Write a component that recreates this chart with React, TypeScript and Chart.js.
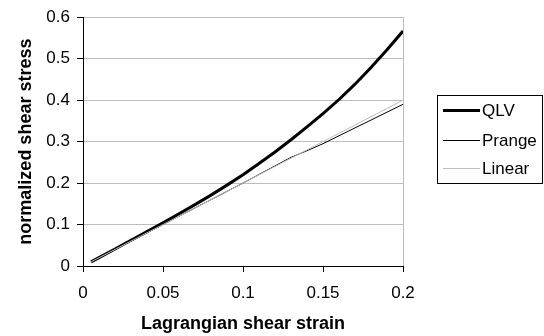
import React, { useEffect, useRef } from "react";
import { Chart, registerables } from "chart.js";

Chart.register(...registerables);

// ---- data ----
const seriesNames = ["QLV", "Prange", "Linear"];

const strainQLV = [0.005, 0.01, 0.02, 0.03, 0.04, 0.05, 0.06, 0.07, 0.08, 0.09, 0.1, 0.11, 0.12, 0.13, 0.14, 0.15, 0.16, 0.17, 0.18, 0.19, 0.2];
const stressQLV = [0.01, 0.02, 0.041, 0.062, 0.083, 0.104, 0.126, 0.148, 0.171, 0.195, 0.22, 0.247, 0.275, 0.3045, 0.3355, 0.3675, 0.4015, 0.4385, 0.4785, 0.5215, 0.5665];

const strainPrange = [0.005, 0.05, 0.1, 0.13, 0.14, 0.15, 0.16, 0.17, 0.18, 0.19, 0.2];
const stressPrange = [0.01, 0.1, 0.2, 0.262, 0.278, 0.295, 0.314, 0.333, 0.352, 0.371, 0.39];

const strainLinear = [0.005, 0.2];
const stressLinear = [0.01, 0.4];

const xTicks = [0, 0.05, 0.1, 0.15, 0.2];
const yTicks = [0, 0.1, 0.2, 0.3, 0.4, 0.5, 0.6];

const xTitle = "Lagrangian shear strain";
const yTitle = "normalized shear stress";

const colors = ["#000000", "#000000", "#bdbdbd"];
const widths = [3, 1, 1];

const FONT = "'Liberation Sans', Arial, sans-serif";

const pts = (xs: number[], ys: number[]) => xs.map((x, i) => ({ x, y: ys[i] }));
const fmt = (v: number) => String(Number(Number(v).toFixed(3)));

const legendPlugin = {
  id: "boxLegend",
  afterDraw(chart: any) {
    const ctx = chart.ctx;
    ctx.save();
    ctx.strokeStyle = "#000";
    ctx.lineWidth = 1;
    ctx.strokeRect(437.5, 95.5, 105, 88);
    const ys = [110, 140, 168];
    ctx.font = `17px ${FONT}`;
    ctx.textBaseline = "middle";
    ctx.textAlign = "left";
    seriesNames.forEach((name, i) => {
      ctx.beginPath();
      ctx.strokeStyle = colors[i];
      ctx.lineWidth = widths[i];
      ctx.moveTo(443, ys[i] + 0.5);
      ctx.lineTo(480, ys[i] + 0.5);
      ctx.stroke();
      ctx.fillStyle = "#000";
      ctx.fillText(name, 482, ys[i] + 1);
    });
    ctx.restore();
  },
};

export default function App() {
  const ref = useRef<HTMLCanvasElement | null>(null);

  useEffect(() => {
    if (!ref.current) return;
    const seriesX = [strainQLV, strainPrange, strainLinear];
    const seriesY = [stressQLV, stressPrange, stressLinear];
    const chart = new Chart(ref.current, {
      type: "scatter",
      data: {
        datasets: seriesNames.map((name, i) => ({
          label: name,
          data: pts(seriesX[i], seriesY[i]),
          showLine: true,
          borderColor: colors[i],
          backgroundColor: colors[i],
          borderWidth: widths[i],
          pointRadius: 0,
          tension: 0,
          order: 2 - i,
        })),
      },
      options: {
        animation: false,
        responsive: false,
        layout: { padding: { left: 0, top: 13, right: 141, bottom: 0 } },
        plugins: {
          legend: { display: false },
          tooltip: { enabled: false },
        },
        scales: {
          x: {
            type: "linear",
            min: 0,
            max: 0.2,
            afterBuildTicks: (s: any) => {
              s.ticks = xTicks.map((v) => ({ value: v }));
            },
            afterFit: (s: any) => {
              s.height = 70;
            },
            ticks: {
              color: "#000",
              font: { family: FONT, size: 17 },
              padding: 11,
              maxRotation: 0,
              callback: (v: any) => fmt(v),
            },
            grid: {
              drawOnChartArea: true,
              color: (c: any) => (c.tick && Math.abs(c.tick.value - 0.2) < 1e-9 ? "#bdbdbd" : "rgba(0,0,0,0)"),
              tickColor: "#000",
              tickLength: 6,
            },
            border: { display: true, color: "#000", width: 1 },
            title: {
              display: true,
              text: xTitle,
              color: "#000",
              font: { family: FONT, size: 18, weight: "bold" },
              padding: { top: 0, bottom: 1 },
            },
          },
          y: {
            type: "linear",
            min: 0,
            max: 0.6,
            afterBuildTicks: (s: any) => {
              s.ticks = yTicks.map((v) => ({ value: v }));
            },
            afterFit: (s: any) => {
              s.width = 83;
            },
            ticks: {
              color: "#000",
              font: { family: FONT, size: 17 },
              padding: 7,
              callback: (v: any) => fmt(v),
            },
            grid: {
              color: "#bdbdbd",
              tickColor: "#000",
              tickLength: 6,
            },
            border: { display: true, color: "#000", width: 1 },
            title: {
              display: true,
              text: yTitle,
              color: "#000",
              font: { family: FONT, size: 18, weight: "bold" },
              padding: { top: 15, bottom: 0 },
            },
          },
        },
      },
      plugins: [legendPlugin],
    } as any);
    return () => chart.destroy();
  }, []);

  return (
    <div style={{ position: "absolute", left: 0, top: 0, width: 544, height: 336, background: "#fff" }}>
      <canvas ref={ref} width={544} height={336} />
    </div>
  );
}
